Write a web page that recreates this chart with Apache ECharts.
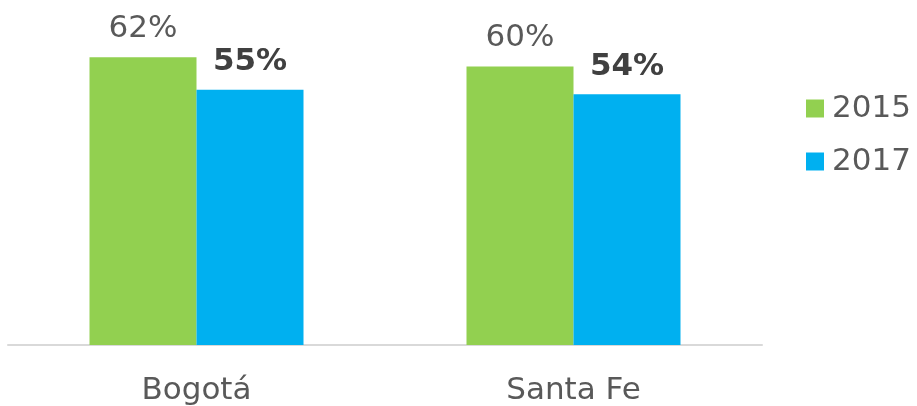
<!DOCTYPE html>
<html>
<head>
<meta charset="utf-8">
<script src="https://cdn.jsdelivr.net/npm/echarts@6/dist/echarts.min.js"></script>
<style>
  html, body { margin: 0; padding: 0; background: #fff; }
  #chart { width: 917px; height: 406px; }
</style>
</head>
<body>
<div id="chart"></div>
<script>
// Share (%) by city and year
const categories = ['Bogotá', 'Santa Fe'];
const years = ['2015', '2017'];
const values2015 = [62, 60];
const values2017 = [55, 54];

const FONT = '"DejaVu Sans", Verdana, sans-serif';

const chart = echarts.init(document.getElementById('chart'), null, { renderer: 'canvas' });

chart.setOption({
  animation: false,
  grid: { left: 8, right: 155, top: 20, bottom: 59, containLabel: false },
  legend: {
    orient: 'vertical',
    left: 806,
    top: 93,
    padding: 0,
    itemWidth: 18,
    itemHeight: 18,
    itemGap: 22,
    icon: 'rect',
    data: years,
    textStyle: { fontFamily: FONT, fontSize: 31, color: '#595959', padding: [0, 0, 0, 3] }
  },
  xAxis: {
    type: 'category',
    data: categories,
    axisLine: { lineStyle: { color: '#d9d9d9', width: 2 } },
    axisTick: { show: false },
    axisLabel: { fontFamily: FONT, fontSize: 31, color: '#595959', margin: 30 }
  },
  yAxis: {
    type: 'value',
    min: 0,
    max: 70,
    show: false,
    splitLine: { show: false }
  },
  series: [
    {
      name: years[0],
      type: 'bar',
      data: values2015,
      barWidth: 107,
      barGap: '0%',
      itemStyle: { color: '#92D050' },
      label: {
        show: true,
        position: 'top',
        distance: 13,
        formatter: '{c}%',
        fontFamily: FONT,
        fontSize: 31,
        color: '#595959'
      }
    },
    {
      name: years[1],
      type: 'bar',
      data: values2017,
      barWidth: 107,
      barGap: '0%',
      itemStyle: { color: '#00B0F0' },
      label: {
        show: true,
        position: 'top',
        distance: 12,
        formatter: '{c}%',
        fontFamily: FONT,
        fontSize: 31,
        fontWeight: 'bold',
        color: '#404040'
      }
    }
  ]
});
</script>
</body>
</html>
